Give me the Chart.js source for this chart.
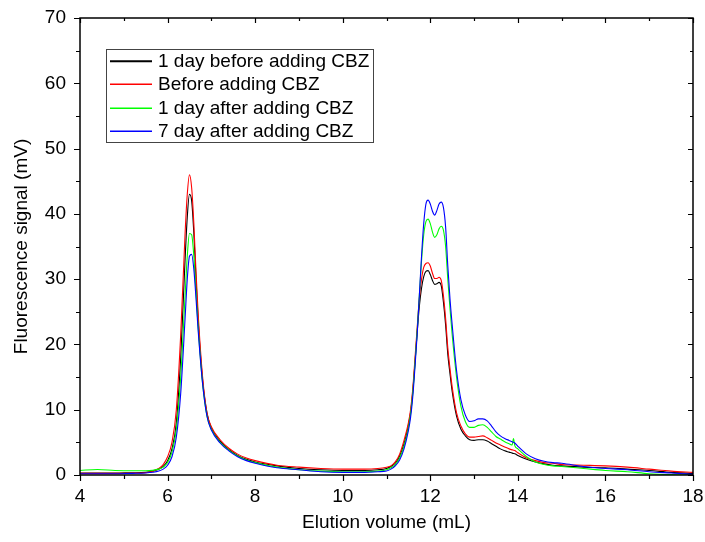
<!DOCTYPE html>
<html>
<head>
<meta charset="utf-8">
<script src="https://cdn.jsdelivr.net/npm/chart.js@4.4.1/dist/chart.umd.min.js"></script>
<style>
  html, body { margin: 0; padding: 0; background: #ffffff; }
  canvas { display: block; }
</style>
</head>
<body>
<canvas id="c" width="705" height="542"></canvas>
<script>
// Elution volume (mL) sample positions
const elutionVolume = [4.0,4.4,4.8,5.2,5.5,5.8,5.9,6.0,6.1,6.2,6.3,6.4,6.45,6.5,6.55,6.6,6.65,6.7,6.8,6.9,7.0,7.2,7.4,7.6,7.8,8.0,8.5,9.0,9.5,10.0,10.5,10.8,11.0,11.1,11.2,11.3,11.4,11.5,11.55,11.6,11.65,11.7,11.75,11.8,11.85,11.9,11.95,12.0,12.05,12.1,12.15,12.2,12.25,12.3,12.35,12.4,12.45,12.5,12.6,12.7,12.8,12.9,13.0,13.1,13.2,13.3,13.4,13.5,13.6,13.7,13.8,13.87,13.9,13.93,14.0,14.2,14.4,14.6,14.8,15.0,15.5,16.0,16.5,17.0,17.5,18.0];

// Fluorescence signal (mV)
const oneDayBefore = [0.3,0.3,0.3,0.35,0.4, 0.9,1.3,2.2,4.0,8.0, 18,33,39.5,43,42, 37,30,23.5,14.5,9.5, 7.2,5.2,3.9,3.0,2.4, 2.0,1.4,1.0,0.8,0.7, 0.7,0.8,1.0,1.3,1.8, 2.9,4.8,7.6,9.6,12.8, 17.2,21.8,25.8,28.6,30.4, 31.2,31.3,30.7,29.8,29.2, 29.3,29.5,29.0,26.5,23, 18.5,15.5,12.8,9,7, 6.0,5.4,5.3,5.4,5.4, 5.2,4.8,4.4,4.0,3.7, 3.5,3.35,3.3,3.25,3.0, 2.4,2.0,1.7,1.5,1.4, 1.2,1.1,0.9,0.7,0.4, 0.25];
const beforeAdding = [0.25,0.25,0.25,0.3,0.35, 1.0,1.6,2.8,5.0,10, 21.5,37,43,46,44, 38.5,31,24.5,15,9.5, 7.4,5.4,4.1,3.2,2.6, 2.2,1.5,1.2,1.0,0.9, 0.9,1.0,1.2,1.4,2.0, 3.2,5.3,8.0,10,13.2, 17.8,22.5,27,30,31.8, 32.4,32.5,32.0,30.9,30.1, 30.1,30.3,29.8,27.5,24, 19.5,16.3,13.5,9.5,7.5, 6.3,5.8,5.8,5.9,6.0, 5.7,5.3,4.9,4.6,4.3, 4.0,3.85,3.8,3.75,3.4, 2.6,2.2,1.9,1.8,1.6, 1.5,1.4,1.2,0.9,0.6, 0.4];
const oneDayAfter = [0.7,0.85,0.7,0.65,0.65, 0.9,1.2,1.9,3.5,7, 15,27.5,33.5,37,36.8, 33.5,28,22.5,14,9, 7.0,5.0,3.8,2.9,2.3, 1.9,1.2,0.8,0.6,0.5, 0.5,0.6,0.8,1.1,1.6, 2.6,4.4,7.2,9.3,12.5, 17,22,27.5,32.8,36.8, 38.8,39.2,38.5,37.2,36.4, 36.8,37.7,38.1,37.5,35, 30,25.5,21.5,15,10.5, 8.2,7.3,7.3,7.6,7.7, 7.3,6.6,5.9,5.5,5.1, 4.8,4.6,5.6,4.5,4.0, 2.8,2.0,1.6,1.4,1.3, 1.0,0.7,0.5,0.2,0.05, 0.0];
const sevenDayAfter = [0.2,0.2,0.2,0.25,0.3, 0.6,0.9,1.5,2.8,5.8, 12.5,24,30,33.5,33.8, 31.5,27,22,14,9, 6.9,4.9,3.7,2.8,2.2, 1.8,1.1,0.8,0.5,0.4, 0.4,0.5,0.6,0.9,1.4, 2.3,4.0,6.8,8.8,12, 16.5,21.5,27.5,33.5,38.5, 41.5,42.1,41.5,40.4,39.8, 40.5,41.5,41.8,41.0,38, 32,27,23,16,11.5, 9.2,8.2,8.3,8.6,8.6, 8.3,7.5,6.6,6.0,5.6, 5.3,5.1,5.0,4.9,4.4, 3.2,2.5,2.1,1.9,1.8, 1.3,1.0,0.8,0.5,0.3, 0.1];

const seriesLabels = ['1 day before adding CBZ', 'Before adding CBZ', '1 day after adding CBZ', '7 day after adding CBZ'];
const seriesValues = [oneDayBefore, beforeAdding, oneDayAfter, sevenDayAfter];
const seriesColors = ['#000000', '#ff0000', '#00ff00', '#0000ff'];

const xAxisTitle = 'Elution volume (mL)';
const yAxisTitle = 'Fluorescence signal (mV)';

const FONT = '"Liberation Sans", Arial, Helvetica, sans-serif';

const datasets = seriesValues.map((vals, i) => ({
  label: seriesLabels[i],
  data: vals.map((v, j) => ({ x: elutionVolume[j], y: v })),
  borderColor: seriesColors[i],
  backgroundColor: seriesColors[i],
  borderWidth: 1.1,
  pointRadius: 0,
  fill: false,
  cubicInterpolationMode: 'monotone',
  order: 4 - i
}));

const frameAndLegend = {
  id: 'frameAndLegend',
  afterDraw(chart) {
    const ctx = chart.ctx;
    const a = chart.chartArea;
    const xs = chart.scales.x, ys = chart.scales.y;
    ctx.save();
    ctx.strokeStyle = '#000';
    ctx.lineWidth = 1.5;
    ctx.strokeRect(a.left, a.top, a.right - a.left, a.bottom - a.top);
    ctx.lineWidth = 1.2;
    // x ticks
    for (let v = 4; v <= 18; v += 1) {
      const px = Math.round(xs.getPixelForValue(v)) + 0.5;
      const major = v % 2 === 0;
      ctx.beginPath();
      ctx.moveTo(px, a.bottom); ctx.lineTo(px, a.bottom + (major ? 6 : 4));
      ctx.moveTo(px, a.top); ctx.lineTo(px, a.top + (major ? 5 : 3));
      ctx.stroke();
    }
    // y ticks
    for (let v = 0; v <= 70; v += 5) {
      const py = Math.round(ys.getPixelForValue(v)) + 0.5;
      const major = v % 10 === 0;
      ctx.beginPath();
      ctx.moveTo(a.left, py); ctx.lineTo(a.left - (major ? 6 : 4), py);
      ctx.moveTo(a.right, py); ctx.lineTo(a.right - (major ? 5 : 3), py);
      ctx.stroke();
    }
    // legend
    const bx = 106.5, by = 49.5, bw = 267, bh = 93;
    ctx.fillStyle = '#fff';
    ctx.fillRect(bx, by, bw, bh);
    ctx.strokeStyle = '#444';
    ctx.lineWidth = 1;
    ctx.strokeRect(bx, by, bw, bh);
    ctx.font = '19px ' + FONT;
    ctx.textBaseline = 'middle';
    ctx.textAlign = 'left';
    const rowY = [61, 84, 108, 131];
    seriesLabels.forEach((label, i) => {
      const y = rowY[i];
      ctx.strokeStyle = seriesColors[i];
      ctx.lineWidth = i === 0 ? 2 : 1.4;
      ctx.beginPath();
      ctx.moveTo(110, y + 0.3); ctx.lineTo(152, y + 0.3);
      ctx.stroke();
      ctx.fillStyle = '#000';
      ctx.fillText(label, 158, y + 1);
    });
    ctx.restore();
  }
};

new Chart(document.getElementById('c'), {
  type: 'line',
  data: { datasets },
  options: {
    responsive: false,
    animation: false,
    devicePixelRatio: 1,
    layout: { padding: { top: 18, right: 12, left: 0, bottom: 0 } },
    plugins: {
      legend: { display: false },
      tooltip: { enabled: false }
    },
    scales: {
      x: {
        type: 'linear',
        min: 4, max: 18,
        grid: { display: false, drawTicks: false },
        border: { display: false },
        ticks: { stepSize: 2, padding: 10, color: '#000', font: { family: FONT, size: 19 } },
        title: { display: true, text: xAxisTitle, color: '#000', font: { family: FONT, size: 19 }, padding: { top: 4, bottom: 8 } },
        afterFit(scale) { scale.height = 67; scale.paddingLeft = 0; scale.paddingRight = 0; }
      },
      y: {
        type: 'linear',
        min: 0, max: 70,
        grid: { display: false, drawTicks: false },
        border: { display: false },
        ticks: { stepSize: 10, padding: 14, color: '#000', font: { family: FONT, size: 19 } },
        title: { display: true, text: yAxisTitle, color: '#000', font: { family: FONT, size: 19 }, padding: { top: 10, bottom: 4 } },
        afterFit(scale) { scale.width = 80; scale.paddingTop = 0; scale.paddingBottom = 0; }
      }
    }
  },
  plugins: [frameAndLegend]
});
</script>
</body>
</html>
